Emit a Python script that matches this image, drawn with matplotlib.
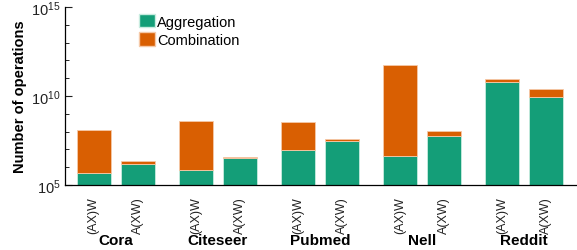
import numpy as np
import matplotlib
matplotlib.use("Agg")
from matplotlib import pyplot as plt
from matplotlib.patches import Patch

plt.rcParams["font.family"] = ["Liberation Sans", "DejaVu Sans"]

datasets = ["Cora", "Citeseer", "Pubmed", "Nell", "Reddit"]
orders = ["(AX)W", "A(XW)"]

# log10 of the number of operations
# per dataset: [(AX)W, A(XW)]
agg_log = [[5.67, 6.18], [5.84, 6.50], [6.98, 7.49], [6.65, 7.74], [10.80, 9.93]]
total_log = [[8.09, 6.35], [8.60, 6.57], [8.52, 7.57], [11.74, 8.01], [10.96, 10.39]]

green = "#149E78"
orange = "#D95F02"

fig = plt.figure(figsize=(5.77, 2.51), dpi=100)
ax = fig.add_axes([65 / 577, 65 / 251, 512 / 577, 178 / 251])

group_step = 2.32
width = 0.77
xs, labels = [], []
for g, name in enumerate(datasets):
    for k in range(2):
        x = g * group_step + k
        agg = 10 ** agg_log[g][k]
        tot = 10 ** total_log[g][k]
        ax.bar(x, agg - 1e5, bottom=1e5, width=width, color=green,
               edgecolor="#c8ece0", linewidth=0.6)
        ax.bar(x, tot - agg, bottom=agg, width=width, color=orange,
               edgecolor="#f5c9a8", linewidth=0.6)
        xs.append(x)
        labels.append(orders[k])

ax.set_yscale("log")
ax.set_ylim(1e5, 1e15)
ax.set_xlim(-0.65, 4 * group_step + 1 + 0.7)
ax.set_yticks([1e5, 1e10, 1e15])
ax.set_yticks([10.0 ** e for e in range(5, 16)], minor=True)
ax.yaxis.set_minor_formatter(matplotlib.ticker.NullFormatter())
ax.tick_params(axis="y", which="major", direction="in", length=5, labelsize=10.5,
               colors="#222222", width=0.8, pad=3)
ax.tick_params(axis="y", which="minor", direction="in", length=3, width=0.6)
ax.set_xticks(xs)
ax.set_xticklabels(labels, rotation=90, fontsize=9, color="#222222")
ax.tick_params(axis="x", length=0, pad=8)

for g, name in enumerate(datasets):
    ax.text(g * group_step + 0.5, -0.27, name, transform=ax.get_xaxis_transform(),
            ha="center", va="top", fontsize=11, fontweight="bold")

ax.set_ylabel("Number of operations", fontsize=10.5, fontweight="bold", labelpad=3)
for s in ["top", "right"]:
    ax.spines[s].set_visible(False)
ax.spines["left"].set_linewidth(0.9)
ax.spines["bottom"].set_linewidth(0.9)

handles = [Patch(facecolor=green, edgecolor="#c8ece0"),
           Patch(facecolor=orange, edgecolor="#f5c9a8")]
ax.legend(handles, ["Aggregation", "Combination"], loc="upper left",
          bbox_to_anchor=(0.13, 1.0), frameon=False, fontsize=10.5,
          handlelength=1.1, handleheight=1.0, handletextpad=0.15,
          labelspacing=0.25, borderaxespad=0.1)

fig.savefig("out.png", dpi=100)
